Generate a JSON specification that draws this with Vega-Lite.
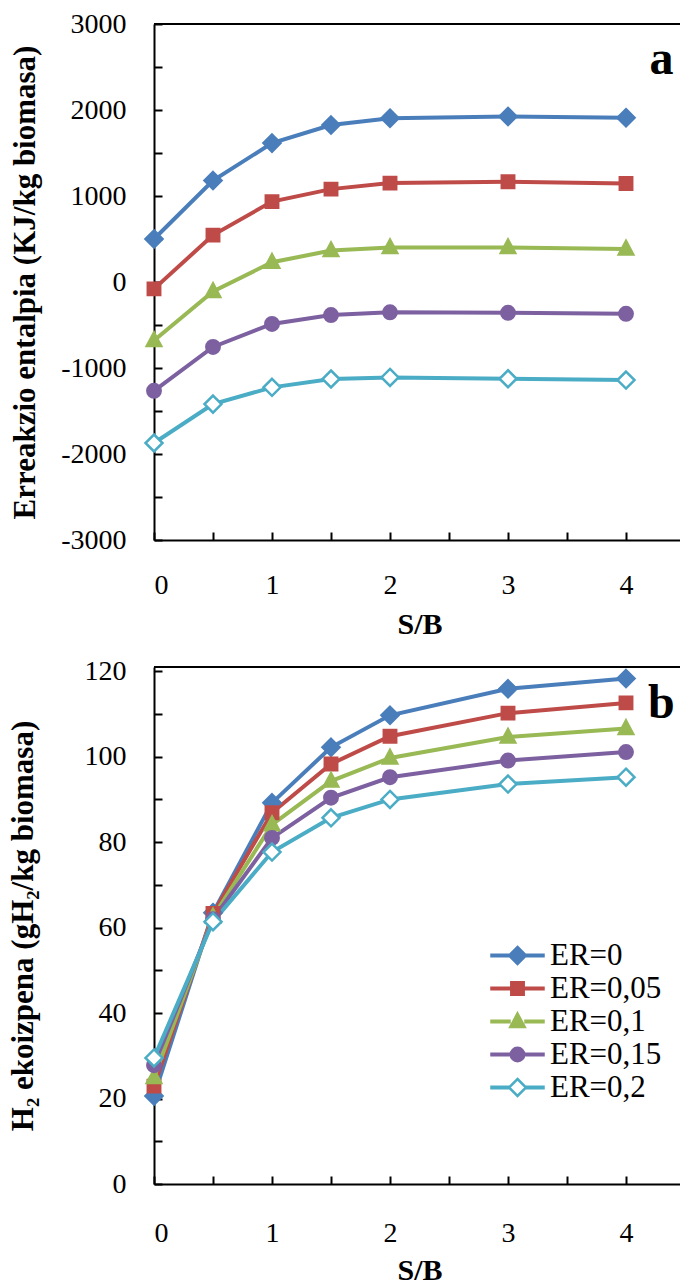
{
  "$schema": "https://vega.github.io/schema/vega-lite/v6.json",
  "background": "white",
  "padding": {"left": 7, "top": 10, "right": 0, "bottom": 0},
  "spacing": 18,
  "config": {
    "font": "Liberation Serif",
    "view": {"stroke": null},
    "axis": {
      "domainColor": "black", "domainWidth": 2, "tickColor": "black", "tickWidth": 2, "tickSize": -8,
      "labelFont": "Liberation Serif", "labelFontSize": 28, "labelColor": "black",
      "titleFont": "Liberation Serif", "titleFontSize": 31, "titleFontWeight": "bold", "titleColor": "black",
      "grid": false
    },
    "legend": {"padding": 0, "labelFont": "Liberation Serif", "labelColor": "black"}
  },
  "datasets": {
    "enthalpy": [
      {"SB": 0, "ER": "ER=0", "H": 500}, {"SB": 0.5, "ER": "ER=0", "H": 1180}, {"SB": 1, "ER": "ER=0", "H": 1615}, {"SB": 1.5, "ER": "ER=0", "H": 1825}, {"SB": 2, "ER": "ER=0", "H": 1905}, {"SB": 3, "ER": "ER=0", "H": 1925}, {"SB": 4, "ER": "ER=0", "H": 1910},
      {"SB": 0, "ER": "ER=0,05", "H": -80}, {"SB": 0.5, "ER": "ER=0,05", "H": 545}, {"SB": 1, "ER": "ER=0,05", "H": 935}, {"SB": 1.5, "ER": "ER=0,05", "H": 1080}, {"SB": 2, "ER": "ER=0,05", "H": 1150}, {"SB": 3, "ER": "ER=0,05", "H": 1165}, {"SB": 4, "ER": "ER=0,05", "H": 1145},
      {"SB": 0, "ER": "ER=0,1", "H": -680}, {"SB": 0.5, "ER": "ER=0,1", "H": -110}, {"SB": 1, "ER": "ER=0,1", "H": 230}, {"SB": 1.5, "ER": "ER=0,1", "H": 365}, {"SB": 2, "ER": "ER=0,1", "H": 400}, {"SB": 3, "ER": "ER=0,1", "H": 400}, {"SB": 4, "ER": "ER=0,1", "H": 385},
      {"SB": 0, "ER": "ER=0,15", "H": -1265}, {"SB": 0.5, "ER": "ER=0,15", "H": -755}, {"SB": 1, "ER": "ER=0,15", "H": -488}, {"SB": 1.5, "ER": "ER=0,15", "H": -384}, {"SB": 2, "ER": "ER=0,15", "H": -352}, {"SB": 3, "ER": "ER=0,15", "H": -358}, {"SB": 4, "ER": "ER=0,15", "H": -370},
      {"SB": 0, "ER": "ER=0,2", "H": -1872}, {"SB": 0.5, "ER": "ER=0,2", "H": -1420}, {"SB": 1, "ER": "ER=0,2", "H": -1225}, {"SB": 1.5, "ER": "ER=0,2", "H": -1128}, {"SB": 2, "ER": "ER=0,2", "H": -1110}, {"SB": 3, "ER": "ER=0,2", "H": -1125}, {"SB": 4, "ER": "ER=0,2", "H": -1140}
    ],
    "hydrogen": [
      {"SB": 0, "ER": "ER=0", "H2": 20.6}, {"SB": 0.5, "ER": "ER=0", "H2": 63.5}, {"SB": 1, "ER": "ER=0", "H2": 89.2}, {"SB": 1.5, "ER": "ER=0", "H2": 102.2}, {"SB": 2, "ER": "ER=0", "H2": 109.7}, {"SB": 3, "ER": "ER=0", "H2": 115.9}, {"SB": 4, "ER": "ER=0", "H2": 118.3},
      {"SB": 0, "ER": "ER=0,05", "H2": 22.9}, {"SB": 0.5, "ER": "ER=0,05", "H2": 63.3}, {"SB": 1, "ER": "ER=0,05", "H2": 86.9}, {"SB": 1.5, "ER": "ER=0,05", "H2": 98.3}, {"SB": 2, "ER": "ER=0,05", "H2": 104.8}, {"SB": 3, "ER": "ER=0,05", "H2": 110.2}, {"SB": 4, "ER": "ER=0,05", "H2": 112.6},
      {"SB": 0, "ER": "ER=0,1", "H2": 24.9}, {"SB": 0.5, "ER": "ER=0,1", "H2": 62.5}, {"SB": 1, "ER": "ER=0,1", "H2": 84.1}, {"SB": 1.5, "ER": "ER=0,1", "H2": 94.3}, {"SB": 2, "ER": "ER=0,1", "H2": 99.7}, {"SB": 3, "ER": "ER=0,1", "H2": 104.6}, {"SB": 4, "ER": "ER=0,1", "H2": 106.6},
      {"SB": 0, "ER": "ER=0,15", "H2": 27.8}, {"SB": 0.5, "ER": "ER=0,15", "H2": 62.0}, {"SB": 1, "ER": "ER=0,15", "H2": 81.0}, {"SB": 1.5, "ER": "ER=0,15", "H2": 90.4}, {"SB": 2, "ER": "ER=0,15", "H2": 95.2}, {"SB": 3, "ER": "ER=0,15", "H2": 99.1}, {"SB": 4, "ER": "ER=0,15", "H2": 101.1},
      {"SB": 0, "ER": "ER=0,2", "H2": 29.5}, {"SB": 0.5, "ER": "ER=0,2", "H2": 61.4}, {"SB": 1, "ER": "ER=0,2", "H2": 77.7}, {"SB": 1.5, "ER": "ER=0,2", "H2": 85.7}, {"SB": 2, "ER": "ER=0,2", "H2": 90.0}, {"SB": 3, "ER": "ER=0,2", "H2": 93.6}, {"SB": 4, "ER": "ER=0,2", "H2": 95.2}
    ]
  },
  "vconcat": [
    {
      "width": 531,
      "height": 516,
      "layer": [
        {
          "data": {"values": [{}]},
          "mark": {"type": "rule", "color": "black", "strokeWidth": 2},
          "encoding": {"y": {"datum": 3000, "type": "quantitative", "scale": {"domain": [-3000, 3000], "nice": false}}}
        },
        {
          "data": {"name": "enthalpy"},
          "mark": {"type": "line", "strokeWidth": 4},
          "encoding": {
            "x": {"field": "SB", "type": "quantitative", "scale": {"domain": [0, 4.5], "nice": false},
              "axis": {"title": "S/B", "titleFontSize": 30, "values": [0, 0.5, 1, 1.5, 2, 2.5, 3, 3.5, 4, 4.5], "labelExpr": "datum.value % 1 == 0 ? '' + datum.value : ''", "labelPadding": 39, "titlePadding": 10}},
            "y": {"field": "H", "type": "quantitative", "scale": {"domain": [-3000, 3000], "nice": false},
              "axis": {"title": "Erreakzio entalpia (KJ/kg biomasa)", "values": [-3000, -2500, -2000, -1500, -1000, -500, 0, 500, 1000, 1500, 2000, 2500, 3000], "labelExpr": "datum.value % 1000 == 0 ? '' + datum.value : ''", "labelPadding": 36, "titlePadding": 19}},
            "color": {"field": "ER", "type": "nominal", "scale": {"domain": ["ER=0", "ER=0,05", "ER=0,1", "ER=0,15", "ER=0,2"], "range": ["#4a7ebb", "#be4b48", "#98b954", "#7d60a0", "#4bacc6"]}, "legend": null}
          }
        },
        {
          "data": {"name": "enthalpy"},
          "mark": {"type": "point", "filled": true, "size": 400, "strokeWidth": 2.5, "opacity": 1},
          "encoding": {
            "x": {"field": "SB", "type": "quantitative"},
            "y": {"field": "H", "type": "quantitative", "scale": {"domain": [-3000, 3000], "nice": false}},
            "stroke": {"field": "ER", "type": "nominal", "scale": {"domain": ["ER=0", "ER=0,05", "ER=0,1", "ER=0,15", "ER=0,2"], "range": ["#4a7ebb", "#be4b48", "#98b954", "#7d60a0", "#4bacc6"]}, "legend": null},
            "fill": {"field": "ER", "type": "nominal", "scale": {"domain": ["ER=0", "ER=0,05", "ER=0,1", "ER=0,15", "ER=0,2"], "range": ["#4a7ebb", "#be4b48", "#98b954", "#7d60a0", "#ffffff"]}, "legend": null},
            "shape": {"field": "ER", "type": "nominal", "scale": {"domain": ["ER=0,2", "ER=0,15", "ER=0,1", "ER=0,05", "ER=0"], "range": ["M0,-0.85L0.85,0L0,0.85L-0.85,0Z", "M-0.67,0A0.67,0.67,0,1,1,0.67,0A0.67,0.67,0,1,1,-0.67,0Z", "M0,-0.8L0.72,0.55L-0.72,0.55Z", "M-0.62,-0.62L0.62,-0.62L0.62,0.62L-0.62,0.62Z", "M0,-0.85L0.85,0L0,0.85L-0.85,0Z"]}, "legend": null}
          }
        },
        {
          "data": {"values": [{}]},
          "mark": {"type": "text", "text": "a", "font": "Liberation Serif", "fontSize": 48, "fontWeight": "bold", "align": "center", "baseline": "alphabetic", "color": "black"},
          "encoding": {
            "x": {"datum": 4.3, "type": "quantitative"},
            "y": {"datum": 2420, "type": "quantitative", "scale": {"domain": [-3000, 3000], "nice": false}}
          }
        }
      ]
    },
    {
      "width": 531,
      "height": 517,
      "layer": [
        {
          "data": {"values": [{}]},
          "mark": {"type": "rule", "color": "black", "strokeWidth": 2},
          "encoding": {"y": {"datum": 121, "type": "quantitative", "scale": {"domain": [0, 121], "nice": false}}}
        },
        {
          "data": {"name": "hydrogen"},
          "mark": {"type": "line", "strokeWidth": 4},
          "encoding": {
            "x": {"field": "SB", "type": "quantitative", "scale": {"domain": [0, 4.5], "nice": false},
              "axis": {"title": "S/B", "titleFontSize": 30, "values": [0, 0.5, 1, 1.5, 2, 2.5, 3, 3.5, 4, 4.5], "labelExpr": "datum.value % 1 == 0 ? '' + datum.value : ''", "labelPadding": 43, "titlePadding": 8}},
            "y": {"field": "H2", "type": "quantitative", "scale": {"domain": [0, 121], "nice": false},
              "axis": {"title": "H₂ ekoizpena (gH₂/kg biomasa)", "values": [0, 10, 20, 30, 40, 50, 60, 70, 80, 90, 100, 110, 120], "labelExpr": "datum.value % 20 == 0 ? '' + datum.value : ''", "labelPadding": 36, "titlePadding": 45}},
            "color": {"field": "ER", "type": "nominal", "scale": {"domain": ["ER=0", "ER=0,05", "ER=0,1", "ER=0,15", "ER=0,2"], "range": ["#4a7ebb", "#be4b48", "#98b954", "#7d60a0", "#4bacc6"]}, "legend": null}
          }
        },
        {
          "data": {"name": "hydrogen"},
          "mark": {"type": "point", "filled": true, "size": 400, "strokeWidth": 2.5, "opacity": 1},
          "encoding": {
            "x": {"field": "SB", "type": "quantitative"},
            "y": {"field": "H2", "type": "quantitative", "scale": {"domain": [0, 121], "nice": false}},
            "stroke": {"field": "ER", "type": "nominal", "scale": {"domain": ["ER=0", "ER=0,05", "ER=0,1", "ER=0,15", "ER=0,2"], "range": ["#4a7ebb", "#be4b48", "#98b954", "#7d60a0", "#4bacc6"]},
              "legend": {
                "title": null, "orient": "none", "legendX": 348, "legendY": 273,
                "symbolSize": 400, "symbolStrokeWidth": 2.5, "labelFontSize": 31, "labelOffset": 17, "rowPadding": 1, "labelBaseline": "middle",
                "symbolType": {"expr": "(datum.value == 'ER=0' ? 'M0,-0.85L0.85,0L0,0.85L-0.85,0Z' : datum.value == 'ER=0,05' ? 'M-0.62,-0.62L0.62,-0.62L0.62,0.62L-0.62,0.62Z' : datum.value == 'ER=0,1' ? 'M0,-0.8L0.72,0.55L-0.72,0.55Z' : datum.value == 'ER=0,15' ? 'M-0.67,0A0.67,0.67,0,1,1,0.67,0A0.67,0.67,0,1,1,-0.67,0Z' : 'M0,-0.85L0.85,0L0,0.85L-0.85,0Z') + 'M-2.6,-0.07L-0.8,-0.07L-0.8,0.07L-2.6,0.07ZM0.8,-0.07L2.6,-0.07L2.6,0.07L0.8,0.07Z'"}
              }},
            "fill": {"field": "ER", "type": "nominal", "scale": {"domain": ["ER=0", "ER=0,05", "ER=0,1", "ER=0,15", "ER=0,2"], "range": ["#4a7ebb", "#be4b48", "#98b954", "#7d60a0", "#ffffff"]},
              "legend": {
                "title": null, "orient": "none", "legendX": 348, "legendY": 273,
                "symbolSize": 400, "symbolStrokeWidth": 2.5, "labelFontSize": 31, "labelOffset": 17, "rowPadding": 1, "labelBaseline": "middle",
                "symbolType": {"expr": "(datum.value == 'ER=0' ? 'M0,-0.85L0.85,0L0,0.85L-0.85,0Z' : datum.value == 'ER=0,05' ? 'M-0.62,-0.62L0.62,-0.62L0.62,0.62L-0.62,0.62Z' : datum.value == 'ER=0,1' ? 'M0,-0.8L0.72,0.55L-0.72,0.55Z' : datum.value == 'ER=0,15' ? 'M-0.67,0A0.67,0.67,0,1,1,0.67,0A0.67,0.67,0,1,1,-0.67,0Z' : 'M0,-0.85L0.85,0L0,0.85L-0.85,0Z') + 'M-2.6,-0.07L-0.8,-0.07L-0.8,0.07L-2.6,0.07ZM0.8,-0.07L2.6,-0.07L2.6,0.07L0.8,0.07Z'"}
              }},
            "shape": {"field": "ER", "type": "nominal", "scale": {"domain": ["ER=0,2", "ER=0,15", "ER=0,1", "ER=0,05", "ER=0"], "range": ["M0,-0.85L0.85,0L0,0.85L-0.85,0Z", "M-0.67,0A0.67,0.67,0,1,1,0.67,0A0.67,0.67,0,1,1,-0.67,0Z", "M0,-0.8L0.72,0.55L-0.72,0.55Z", "M-0.62,-0.62L0.62,-0.62L0.62,0.62L-0.62,0.62Z", "M0,-0.85L0.85,0L0,0.85L-0.85,0Z"]}, "legend": null}
          }
        },
        {
          "data": {"values": [{}]},
          "mark": {"type": "text", "text": "b", "font": "Liberation Serif", "fontSize": 48, "fontWeight": "bold", "align": "center", "baseline": "alphabetic", "color": "black"},
          "encoding": {
            "x": {"datum": 4.3, "type": "quantitative"},
            "y": {"datum": 109.1, "type": "quantitative", "scale": {"domain": [0, 121], "nice": false}}
          }
        }
      ],
      "resolve": {"legend": {"stroke": "independent", "fill": "independent", "shape": "independent"}}
    }
  ],
  "resolve": {"legend": {"stroke": "independent", "fill": "independent", "shape": "independent"}}
}
